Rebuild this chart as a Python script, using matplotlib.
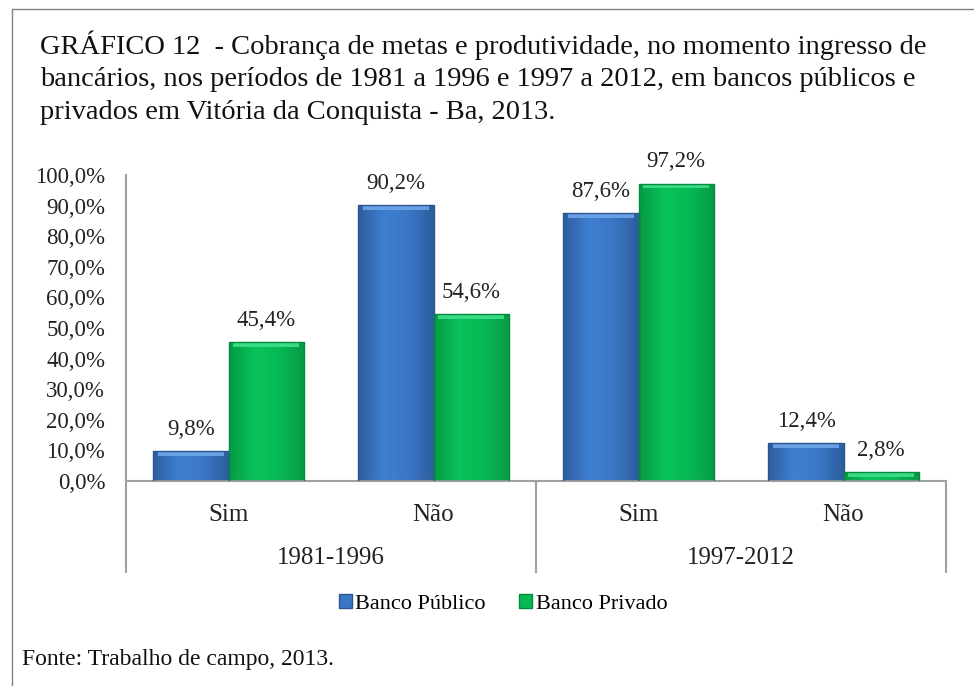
import numpy as np
import matplotlib
matplotlib.use("Agg")
import matplotlib.pyplot as plt
from matplotlib.lines import Line2D
from matplotlib.patches import Patch
from matplotlib.colors import LinearSegmentedColormap

plt.rcParams['font.family'] = ['Liberation Serif', 'DejaVu Serif']

# data
categorias = ['Sim', 'Não', 'Sim', 'Não']
periodos = ['1981-1996', '1997-2012']
publico = [9.8, 90.2, 87.6, 12.4]
privado = [45.4, 54.6, 97.2, 2.8]
series = ['Banco Público', 'Banco Privado']

titulo = ('GRÁFICO 12  - Cobrança de metas e produtividade, no momento ingresso de\n'
          'bancários, nos períodos de 1981 a 1996 e 1997 a 2012, em bancos públicos e\n'
          'privados em Vitória da Conquista - Ba, 2013.')
fonte = 'Fonte: Trabalho de campo, 2013.'

W, H = 974, 686
fig = plt.figure(figsize=(W / 100, H / 100), dpi=100)
ax = fig.add_axes([126 / W, 1 - 481 / H, 820 / W, 306 / H])

x = np.arange(len(categorias))
bw = 0.366
b1 = ax.bar(x - bw / 2, publico, bw, color='#3b73c0', edgecolor='#2a558f', linewidth=1)
b2 = ax.bar(x + bw / 2, privado, bw, color='#07b652', edgecolor='#058a3d', linewidth=1)

# gradient / bevel look on each bar
cm_blue = LinearSegmentedColormap.from_list('b', ['#2d5d9e', '#3f7fd0', '#3b77c6', '#2d5d9e'])
cm_green = LinearSegmentedColormap.from_list('g', ['#069a45', '#09c25a', '#07b954', '#069a45'])
grad = np.linspace(0, 1, 64).reshape(1, -1)
for bars, cm, hi in [(b1, cm_blue, '#6fa6ea'), (b2, cm_green, '#3fe08a')]:
    for p in bars:
        x0, y0 = p.get_x(), p.get_y()
        w, h = p.get_width(), p.get_height()
        im = ax.imshow(grad, cmap=cm, aspect='auto', extent=[x0, x0 + w, y0, y0 + h], zorder=2)
        im.set_clip_path(p)
        top = min(1.6, h * 0.5)
        ax.add_patch(plt.Rectangle((x0 + w * 0.06, y0 + h - top), w * 0.88, top,
                                   color=hi, lw=0, zorder=3, alpha=0.9))
        p.set_zorder(4)
        p.set_facecolor('none')

# data labels
for bars, vals in [(b1, publico), (b2, privado)]:
    for p, v in zip(bars, vals):
        ax.annotate(f'{v:.1f}%'.replace('.', ','), (p.get_x() + p.get_width() / 2, v),
                    xytext=(0, 8), textcoords='offset points', ha='center', va='bottom',
                    fontsize=16.5, color='#222222')

ax.set_xlim(-0.5, len(categorias) - 0.5)
ax.set_ylim(0, 100)
ax.set_yticks(np.arange(0, 101, 10))
ax.set_yticklabels([f'{v:.1f}%'.replace('.', ',') for v in np.arange(0, 101, 10)])
ax.tick_params(axis='y', length=0, pad=15, labelsize=16.5, labelcolor='#222222')
ax.set_xticks([])
for s in ['top', 'right']:
    ax.spines[s].set_visible(False)
for s in ['left', 'bottom']:
    ax.spines[s].set_color('#a0a0a0')
    ax.spines[s].set_linewidth(1.5)

# category and period labels
tr = ax.get_xaxis_transform()
for xi, c in zip(x, categorias):
    ax.text(xi, -0.11, c, transform=tr, ha='center', va='center', fontsize=18, color='#222222')
for i, p in enumerate(periodos):
    ax.text(2 * i + 0.5, -0.25, p, transform=tr, ha='center', va='center', fontsize=18, color='#222222')
for xs in [-0.5, 1.5, 3.5]:
    ax.add_line(Line2D([xs, xs], [0, -0.297], transform=tr, color='#a0a0a0', lw=1.5, clip_on=False))

# legend
handles = [Patch(facecolor='#3b77c6', edgecolor='#2a558f'), Patch(facecolor='#07b954', edgecolor='#058a3d')]
fig.legend(handles, series, loc='center', bbox_to_anchor=(503 / W, 1 - 604 / H), ncol=2,
           frameon=False, fontsize=16, handlelength=0.6, handleheight=0.6, handletextpad=0.15,
           columnspacing=1.5)

fig.text(40 / W, 1 - 30 / H, titulo, ha='left', va='top', fontsize=20.5, linespacing=1.42, color='#111111')
fig.text(22 / W, 1 - 660 / H, fonte, ha='left', va='center', fontsize=17, color='#111111')

# outer frame
fig.add_artist(Line2D([12 / W, 12 / W, 1], [0, 1 - 9 / H, 1 - 9 / H], transform=fig.transFigure,
                      color='#808080', lw=1))

fig.savefig('out.png', dpi=100)
